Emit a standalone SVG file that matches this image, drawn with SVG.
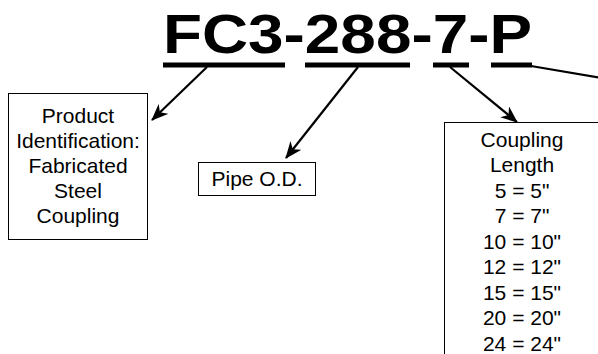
<svg xmlns="http://www.w3.org/2000/svg" width="598" height="354" viewBox="0 0 598 354">
<style>
.t{font-family:"Liberation Sans",Arial,sans-serif;font-size:21px;fill:#000;text-anchor:middle}
.box{fill:#fff;stroke:#000;stroke-width:1}
.ul{fill:#000}
.c{stroke:#000;stroke-width:2.2;fill:none}
</style>
<defs>
<marker id="ah" markerUnits="userSpaceOnUse" markerWidth="18" markerHeight="14" refX="16" refY="7" orient="auto" viewBox="0 0 18 14">
<path d="M0,0 L17,7 L0,14 L5,7 z" fill="#000"/>
</marker>
</defs>
<rect width="598" height="354" fill="#fff"/>
<g id="title">
<text x="163" y="53" font-family="'Liberation Sans',Arial,sans-serif" font-weight="bold" font-size="56" textLength="369" lengthAdjust="spacingAndGlyphs">FC3-288-7-P</text>
<rect class="ul" x="163" y="62.5" width="122" height="5"/>
<rect class="ul" x="305" y="62.5" width="105" height="5"/>
<rect class="ul" x="433" y="62.5" width="36" height="5"/>
<rect class="ul" x="491" y="62.5" width="41" height="5"/>
</g>
<g id="connectors">
<line class="c" x1="207" y1="67" x2="152" y2="120" marker-end="url(#ah)"/>
<line class="c" x1="358" y1="67" x2="286" y2="158" marker-end="url(#ah)"/>
<line class="c" x1="450" y1="67" x2="517" y2="122" marker-end="url(#ah)"/>
<line class="c" x1="531" y1="66" x2="620" y2="81"/>
</g>
<g id="product">
<rect class="box" x="8.5" y="93.5" width="139" height="146"/>
<text class="t" x="78" y="123">Product</text>
<text class="t" x="78" y="148">Identification:</text>
<text class="t" x="78" y="173">Fabricated</text>
<text class="t" x="78" y="198">Steel</text>
<text class="t" x="78" y="223">Coupling</text>
</g>
<g id="pipe">
<rect class="box" x="198.5" y="162.5" width="117" height="33"/>
<text class="t" x="257" y="186">Pipe O.D.</text>
</g>
<g id="length">
<rect class="box" x="444.5" y="122.5" width="200" height="260"/>
<text class="t" x="522" y="146.5">Coupling</text>
<text class="t" x="522" y="172">Length</text>
<text class="t" x="522" y="197.5">5 = 5"</text>
<text class="t" x="522" y="223">7 = 7"</text>
<text class="t" x="522" y="248.5">10 = 10"</text>
<text class="t" x="522" y="274">12 = 12"</text>
<text class="t" x="522" y="299.5">15 = 15"</text>
<text class="t" x="522" y="325">20 = 20"</text>
<text class="t" x="522" y="350.5">24 = 24"</text>
</g>
</svg>
